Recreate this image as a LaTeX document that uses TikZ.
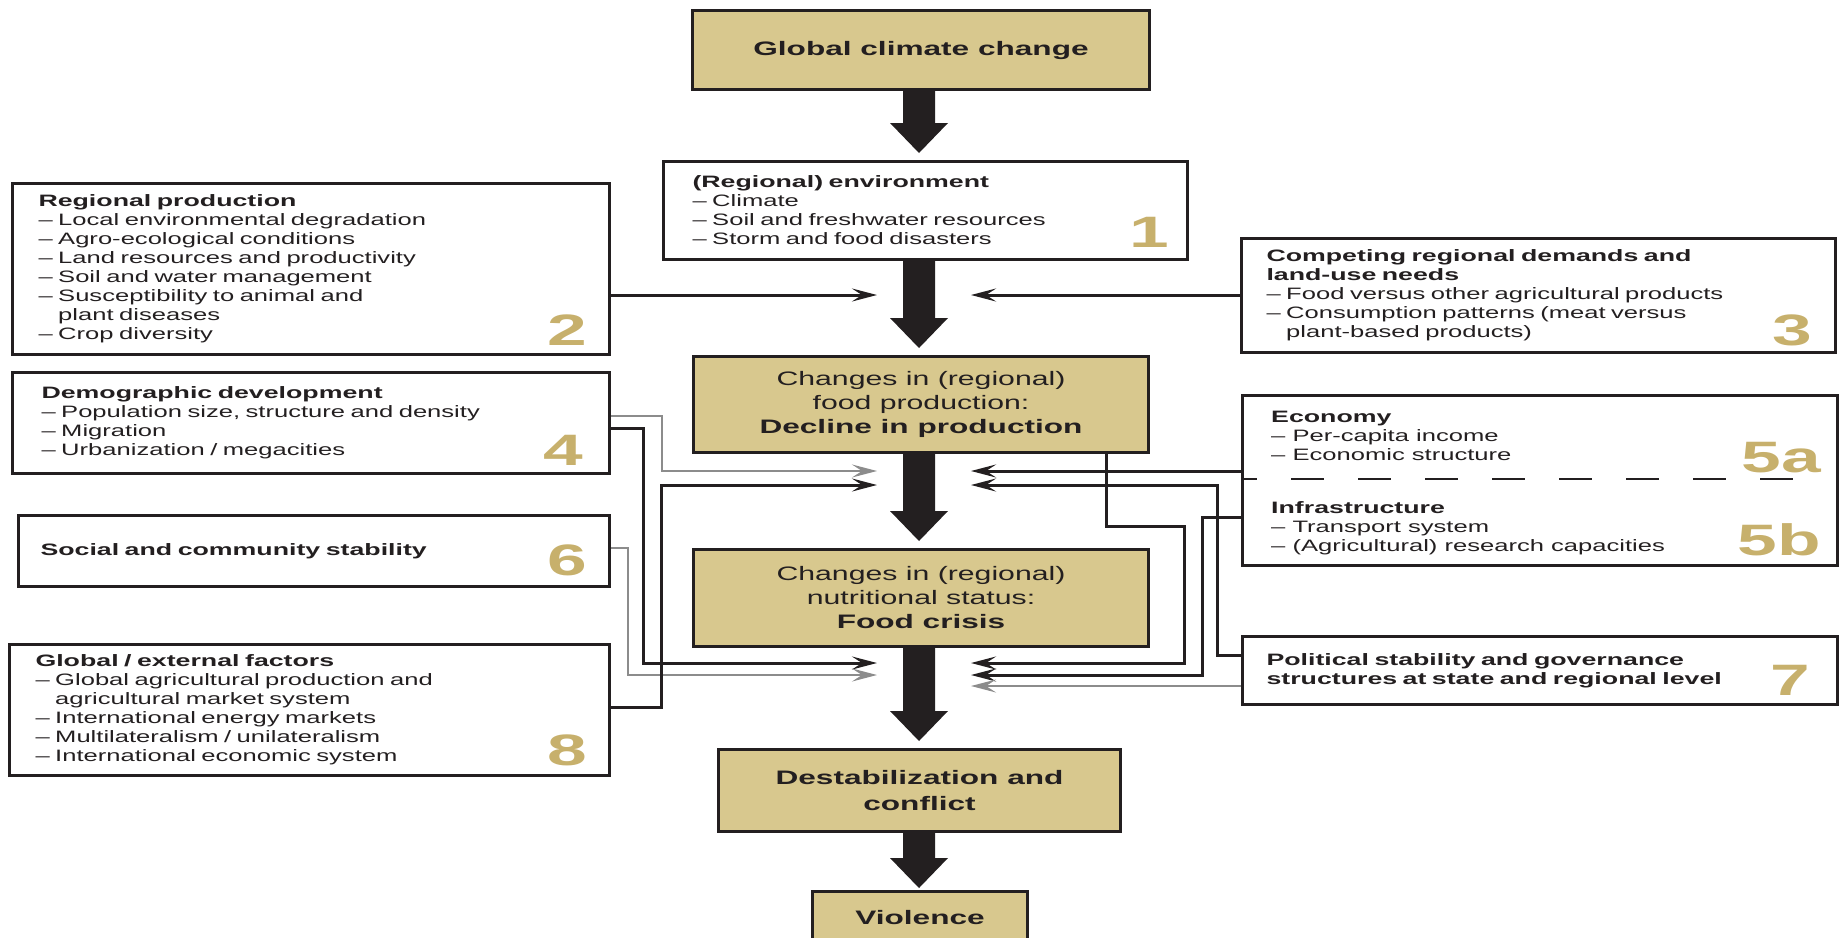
\documentclass[tikz,border=0pt]{standalone}
\usepackage{fontspec}
\setmainfont{Liberation Sans}[FakeStretch=1.55,BoldFeatures={FakeStretch=1.62}]
\usetikzlibrary{arrows.meta,calc}
\definecolor{boxtan}{RGB}{216,200,142}
\definecolor{numgold}{RGB}{199,176,108}
\definecolor{ink}{RGB}{35,31,32}

\begin{document}
\begin{tikzpicture}[
    x=1pt, y=-1pt,
    sidebox/.style={draw=ink, line width=3pt, anchor=north west, align=left, text=ink, inner ysep=0pt, font=\fontsize{16.5}{19}\selectfont},
    mainbox/.style={draw=ink, fill=boxtan, line width=3pt, anchor=north west, align=center, text=ink, font=\fontsize{19.5}{24}\selectfont},
    boldmain/.style={mainbox, font=\fontsize{19.5}{25.5}\selectfont\bfseries},
    boxtag/.style={anchor=base east, inner sep=0pt, text=numgold, font=\fontsize{44}{44}\selectfont\bfseries},
    bigarrow/.style={fill=ink, to path={let \p1=(\tikztostart), \p2=(\tikztotarget) in
        (\x1-16pt,\y1) -- (\x1-16pt,\y2+#1+30pt) -- (\x1-29pt,\y2+#1+30pt) -- (\x1,\y2+#1)
        -- (\x1+29pt,\y2+#1+30pt) -- (\x1+16pt,\y2+#1+30pt) -- (\x1+16pt,\y1) -- cycle}},
    bigarrow/.default=7pt,
    feed/.style={draw=ink, line width=3pt, -{Stealth[length=25pt, width=13pt, inset=10pt]}},
    feedlight/.style={feed, draw=black!45, line width=2.2pt}
  ]

  \useasboundingbox (0,0) rectangle (1841,937);

  \node (glob) at (691,9) [boldmain, minimum width=457pt, minimum height=79pt] {Global climate change};
  \node (env) at (662,160) [sidebox, text width=466pt, inner xsep=29pt, minimum height=98pt] {\textbf{(Regional) environment}\\– Climate\\– Soil and freshwater resources\\– Storm and food disasters};
  \node (prod) at (692,355) [mainbox, minimum width=455pt, minimum height=96pt] {Changes in (regional)\\food production:\\\textbf{Decline in production}};
  \node (crisis) at (692,548) [mainbox, minimum width=455pt, minimum height=97pt] {Changes in (regional)\\nutritional status:\\\textbf{Food crisis}};
  \node (destab) at (717,748) [boldmain, minimum width=402pt, minimum height=82pt] {Destabilization and\\conflict};
  \node (viol) at (811,890) [boldmain, minimum width=215pt, minimum height=52pt] {Violence};

  \node (reg) at (11,182) [sidebox, text width=545pt, inner xsep=26pt, minimum height=171pt] {\textbf{Regional production}\\– Local environmental degradation\\– Agro-ecological conditions\\– Land resources and productivity\\– Soil and water management\\– Susceptibility to animal and\\\phantom{– }plant diseases\\– Crop diversity};
  \node (demo) at (11,371) [sidebox, text width=539pt, inner xsep=29pt, minimum height=101pt] {\textbf{Demographic development}\\– Population size, structure and density\\– Migration\\– Urbanization / megacities};
  \node (social) at (17,514) [sidebox, text width=547pt, inner xsep=22pt, minimum height=71pt, font=\fontsize{16.5}{19}\selectfont\bfseries] {Social and community stability};
  \node (extern) at (8,643) [sidebox, text width=548pt, inner xsep=26pt, minimum height=131pt] {\textbf{Global / external factors}\\– Global agricultural production and\\\phantom{– }agricultural market system\\– International energy markets\\– Multilateralism / unilateralism\\– International economic system};

  \node (compet) at (1240,237) [sidebox, text width=544pt, inner xsep=25pt, minimum height=114pt] {\textbf{Competing regional demands and}\\\textbf{land-use needs}\\– Food versus other agricultural products\\– Consumption patterns (meat versus\\\phantom{– }plant-based products)};
  \node (ecoinf) at (1241,394) [sidebox, minimum width=595pt, minimum height=170pt, inner sep=0pt] {};
  \node (econ) at (1271,411) [anchor=north west, align=left, inner sep=0pt, text=ink, font=\fontsize{16.5}{19}\selectfont] {\textbf{Economy}\\– Per-capita income\\– Economic structure};
  \node (infra) at (1271,501) [anchor=north west, align=left, inner sep=0pt, text=ink, font=\fontsize{16.5}{19}\selectfont] {\textbf{Infrastructure}\\– Transport system\\– (Agricultural) research capacities};
  \node (polit) at (1241,635) [sidebox, text width=547pt, inner xsep=24pt, minimum height=68pt, font=\fontsize{16.5}{19}\selectfont\bfseries] {Political stability and governance\\structures at state and regional level};

  \draw[draw=ink, line width=2.2pt, dash pattern=on 33pt off 34pt, dash phase=17pt] (ecoinf.west |- 0,479) -- (1813,479);

  \node[boxtag] at ([shift={(-20,-14)}]env.south east) {1};
  \node[boxtag] at ([shift={(-24,-11)}]reg.south east) {2};
  \node[boxtag] at ([shift={(-25,-9)}]compet.south east) {3};
  \node[boxtag] at ([shift={(-28,-10)}]demo.south east) {4};
  \node[boxtag] at ([shift={(-18,-95)}]ecoinf.south east) {5a};
  \node[boxtag] at ([shift={(-18,-12)}]ecoinf.south east) {5b};
  \node[boxtag] at ([shift={(-24,-13)}]social.south east) {6};
  \node[boxtag] at ([shift={(-29,-11)}]polit.south east) {7};
  \node[boxtag] at ([shift={(-24,-12)}]extern.south east) {8};

  \coordinate (axis) at (919,0);
  \path[bigarrow]
    (glob.south -| axis) to (env.north -| axis)
    (env.south -| axis) to (prod.north -| axis)
    (prod.south -| axis) to (crisis.north -| axis)
    (crisis.south -| axis) to (destab.north -| axis);
  \path[bigarrow=2pt] (destab.south -| axis) to (viol.north -| axis);

  \coordinate (inL1) at (877,295);
  \coordinate (inR1) at (971,295);
  \coordinate (inL2a) at (877,471);
  \coordinate (inL2b) at (877,485);
  \coordinate (inR2a) at (971,471);
  \coordinate (inR2b) at (971,485);
  \coordinate (inL3a) at (877,663);
  \coordinate (inL3b) at (877,675);
  \coordinate (inR3a) at (971,663);
  \coordinate (inR3b) at (971,675);
  \coordinate (inR3c) at (971,686);

  \draw[feed] (reg.east |- inL1) -- (inL1);
  \draw[feed] (compet.west |- inR1) -- (inR1);
  \draw[feedlight] (demo.east |- 0,416) -| (662,471) -- (inL2a);
  \draw[feed] (demo.east |- 0,428) -| (643,663) -- (inL3a);
  \draw[feedlight] (social.east |- 0,548) -| (628,675) -- (inL3b);
  \draw[feed] (extern.east |- 0,707) -| (661,485) -- (inL2b);
  \draw[feed] (ecoinf.west |- inR2a) -- (inR2a);
  \draw[feed] (polit.west |- 0,655) -| (1217,485) -- (inR2b);
  \draw[feed] (ecoinf.west |- 0,517) -| (1202,675) -- (inR3b);
  \draw[feedlight] (polit.west |- inR3c) -- (inR3c);
  \draw[feed] (prod.south -| 1106,0) |- (1184,526) |- (inR3a);
\end{tikzpicture}
\end{document}
